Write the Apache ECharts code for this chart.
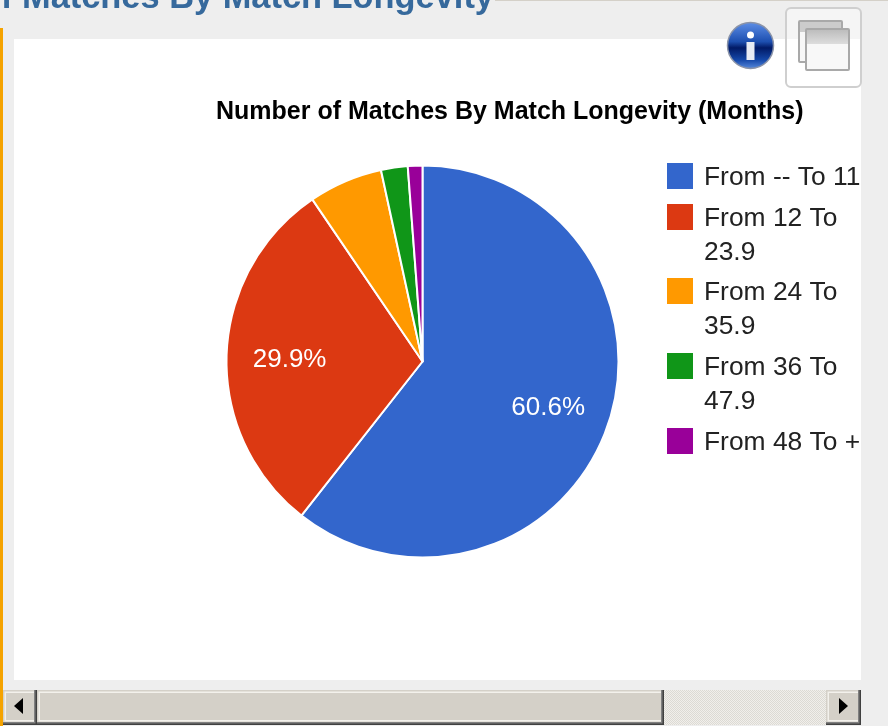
<!DOCTYPE html>
<html><head><meta charset="utf-8">
<style>html,body{margin:0;padding:0;background:#eee}#c{width:888px;height:726px}</style>
<script src="https://cdn.jsdelivr.net/npm/echarts@6/dist/echarts.min.js"></script>
</head><body><div id="c"></div>
<script>
const chartTitle = 'Number of Matches By Match Longevity (Months)';
const pageHeading = 'of Matches By Match Longevity';
const categories = ['From -- To 11', 'From 12 To 23.9', 'From 24 To 35.9', 'From 36 To 47.9', 'From 48 To +'];
const legendLines = ['From -- To 11', 'From 12 To\n23.9', 'From 24 To\n35.9', 'From 36 To\n47.9', 'From 48 To +'];
const values = [60.6, 29.9, 6.1, 2.2, 1.2];
const colors = ['#3366cc', '#dc3912', '#ff9900', '#109618', '#990099'];

const FONT = '"Liberation Sans", Arial, sans-serif';
const R = 196, CX = 422.5, CY = 361.5;
const total = values.reduce((a, b) => a + b, 0);
const midAngle = values.map((v, i) => (values.slice(0, i).reduce((a, b) => a + b, 0) + v / 2) / total * 2 * Math.PI);

const legendTops = [161, 202, 276, 351, 426];
const legends = categories.map((name, i) => {
  const two = legendLines[i].includes('\n');
  const h = two ? 68 : 34;
  return {
    show: true, orient: 'vertical', left: 667, top: legendTops[i], padding: 0,
    data: [{ name, icon: 'path://M0 2H26V28H0Z M0 0 M26 ' + h }],
    itemWidth: 26, itemHeight: h, itemGap: 0, selectedMode: false,
    itemStyle: { borderWidth: 0 },
    formatter: () => legendLines[i],
    textStyle: { fontFamily: FONT, fontSize: 26.4, color: '#222222', lineHeight: 34, padding: [0, 0, 0, 6] }
  };
});

const pat = document.createElement('canvas'); pat.width = 2; pat.height = 2;
const pc = pat.getContext('2d');
pc.fillStyle = '#f1efeb'; pc.fillRect(0, 0, 2, 2);
pc.fillStyle = '#dcdad4'; pc.fillRect(0, 0, 1, 1); pc.fillRect(1, 1, 1, 1);

const rect = (x, y, w, h, fill, z) => ({ type: 'rect', silent: true, z: z || 0, shape: { x, y, width: w, height: h }, style: { fill } });
const btn = (x, w) => [
  rect(x, 690, w, 35, '#404040', 1),
  rect(x, 690, w - 1.5, 33.5, '#808080', 1),
  rect(x, 690, w - 3, 32, '#d4d0c8', 1),
  rect(x + 1.5, 691.5, w - 4.5, 30, '#f3f1ec', 1),
  rect(x + 3, 693, w - 6, 27, '#d4d0c8', 1)
];
const graphic = [
  rect(0, 0, 888, 726, '#eeeeee', 0),
  rect(14, 39, 847, 641, '#ffffff', 0),
  rect(0, 28, 3, 698, '#f5a300', 1),
  rect(495, 0, 393, 1, '#d4d0c8', 1),
  { type: 'text', silent: true, z: 1, style: { x: 494, y: 16, text: pageHeading, align: 'right', verticalAlign: 'bottom', fill: '#36699c', font: 'bold 34.4px ' + FONT } },
  rect(3, 690, 858, 35, '#d4d0c8', 1),
  rect(664, 690, 162, 35, { image: pat, repeat: 'repeat' }, 1),
  ...btn(3, 34), ...btn(37, 627), ...btn(826, 35),
  { type: 'polygon', silent: true, z: 2, shape: { points: [[14, 706], [23, 698], [23, 714]] }, style: { fill: '#000' } },
  { type: 'polygon', silent: true, z: 2, shape: { points: [[848, 706], [839, 698], [839, 714]] }, style: { fill: '#000' } },
  { type: 'rect', silent: true, z: 1, shape: { x: 786, y: 8, width: 75, height: 79, r: 5 }, style: { fill: 'rgba(255,255,255,0.4)', stroke: '#cfcfcf', lineWidth: 2 } },
  { type: 'rect', silent: true, z: 2, shape: { x: 799, y: 21, width: 43, height: 41, r: 1 }, style: { fill: '#f7f7f7', stroke: '#a9a9a9', lineWidth: 2 } },
  rect(800, 22, 41, 10, '#cccccc', 2),
  { type: 'rect', silent: true, z: 3, shape: { x: 806, y: 29, width: 43, height: 41, r: 1 }, style: { fill: '#f8f8f8', stroke: '#a9a9a9', lineWidth: 2 } },
  { type: 'rect', silent: true, z: 3, shape: { x: 807, y: 30, width: 41, height: 14 }, style: { fill: { type: 'linear', x: 0, y: 0, x2: 0, y2: 1, colorStops: [{ offset: 0, color: '#bdbdbd' }, { offset: 1, color: '#dddddd' }] } } },
  { type: 'circle', silent: true, z: 4, shape: { cx: 750.5, cy: 45.5, r: 23 }, style: { stroke: '#8a93a8', lineWidth: 1.5, fill: { type: 'linear', x: 0, y: 0, x2: 0, y2: 1, colorStops: [{ offset: 0, color: '#5f90e8' }, { offset: 0.42, color: '#1d4fb0' }, { offset: 0.55, color: '#011a66' }, { offset: 0.8, color: '#1447a8' }, { offset: 1, color: '#5d8fe0' }] } } },
  { type: 'circle', silent: true, z: 5, shape: { cx: 750.5, cy: 35, r: 3.5 }, style: { fill: '#ffffff' } },
  rect(746.5, 42, 8, 18, '#e8ecf4', 5)
];

const chart = echarts.init(document.getElementById('c'), null, { renderer: 'canvas' });
chart.setOption({
  animation: false,
  backgroundColor: '#eeeeee',
  color: colors,
  graphic: { elements: graphic },
  title: {
    text: chartTitle, left: 216, top: 98, padding: 0,
    textStyle: { fontFamily: FONT, fontWeight: 'bold', fontSize: 25, color: '#000000', lineHeight: 28 }
  },
  legend: legends,
  tooltip: { show: false },
  series: [{
    type: 'pie', center: [CX, CY], radius: [0, R], startAngle: 90, clockwise: true,
    silent: true, avoidLabelOverlap: false, percentPrecision: 1,
    itemStyle: { borderColor: '#ffffff', borderWidth: 2 },
    label: { position: 'inside', formatter: '{d}%', color: '#ffffff', fontFamily: FONT, fontSize: 26 },
    labelLine: { show: false },
    labelLayout: p => ({ dx: Math.sin(midAngle[p.dataIndex]) * 0.163 * R, dy: 3 - Math.cos(midAngle[p.dataIndex]) * 0.163 * R }),
    data: categories.map((name, i) => ({ name, value: values[i], label: { show: values[i] / total > 0.1 } }))
  }]
});
</script></body></html>
